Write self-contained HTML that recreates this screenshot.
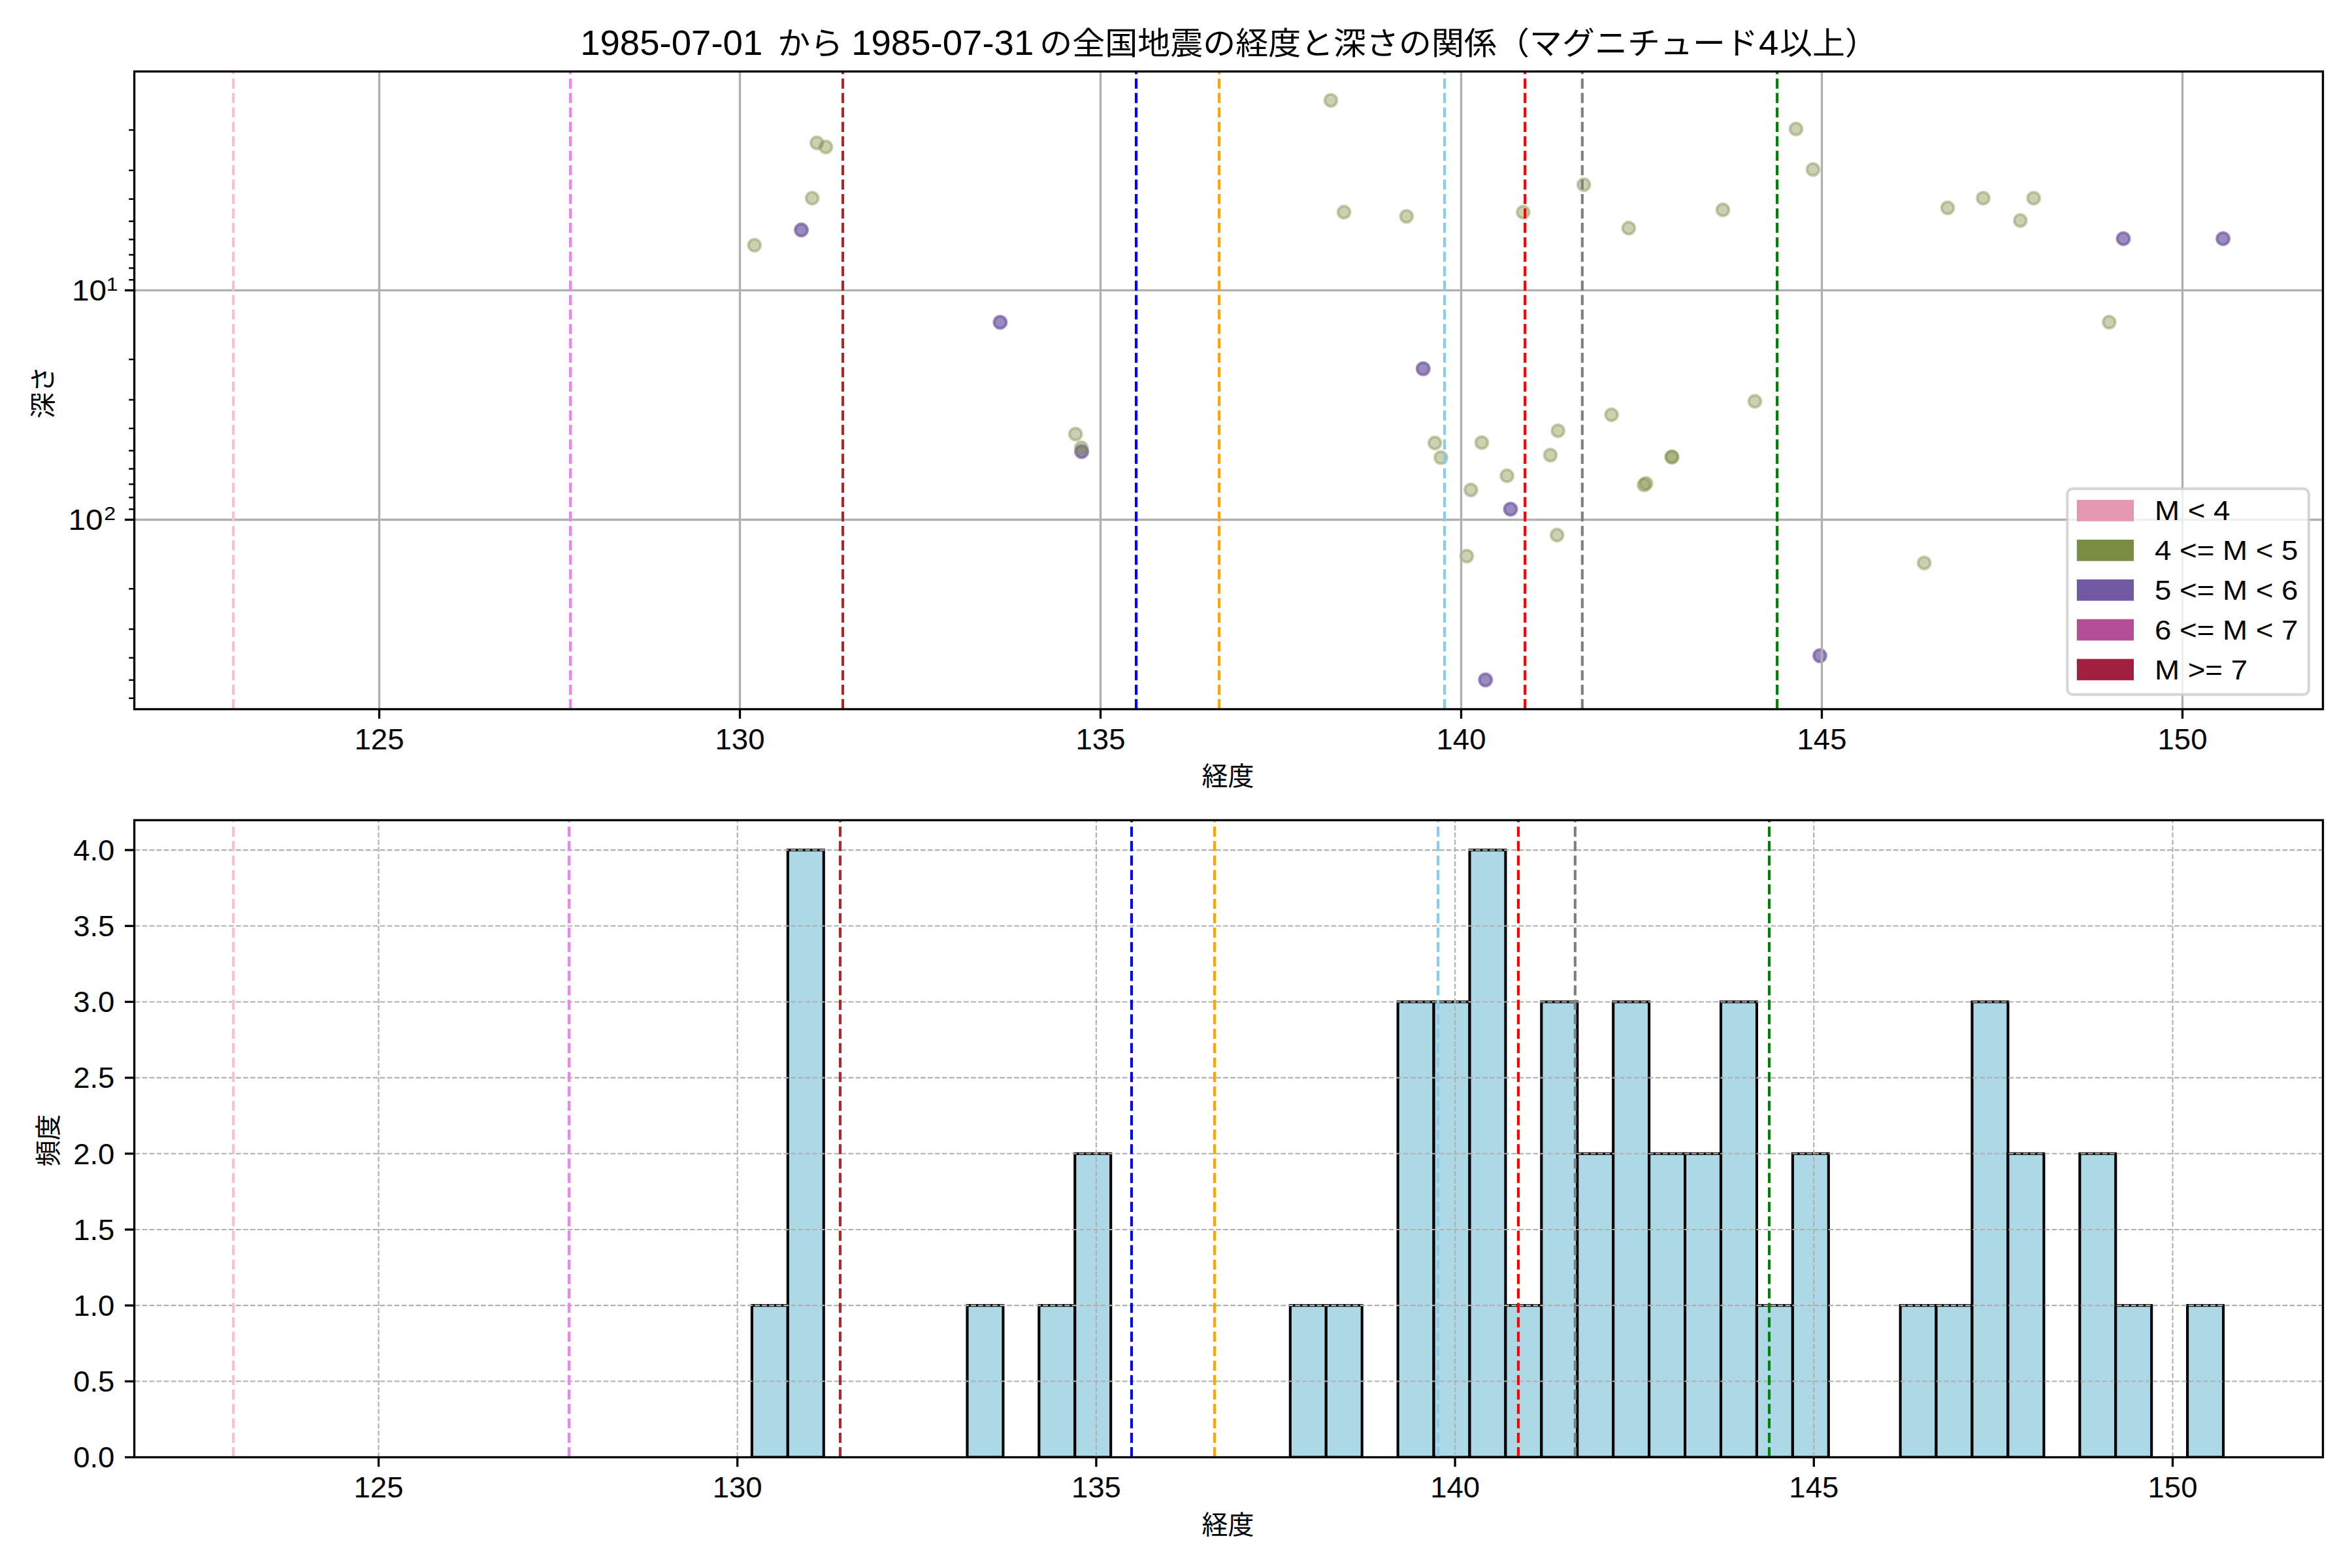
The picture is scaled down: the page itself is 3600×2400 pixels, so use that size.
<!DOCTYPE html>
<html lang="ja"><head><meta charset="utf-8"><title>1985-07 全国地震の経度と深さの関係</title>
<style>html,body{margin:0;padding:0;background:#fff}svg{display:block}</style></head>
<body>
<svg width="3600" height="2400" viewBox="0 0 3600 2400">
<rect x="0" y="0" width="3600" height="2400" fill="#ffffff"/>
<defs><clipPath id="c1"><rect x="205.6" y="109.4" width="3349.9" height="976.1"/></clipPath><clipPath id="c2"><rect x="205.6" y="1255.4" width="3349.9" height="975.1"/></clipPath></defs>
<g clip-path="url(#c1)">
<g fill="#7058a3" stroke="#7058a3" stroke-width="4.17" fill-opacity="0.7" stroke-opacity="0.7">
<circle cx="1226.5" cy="352" r="9.32"/>
<circle cx="1530.9" cy="493.3" r="9.32"/>
<circle cx="3250" cy="365.3" r="9.32"/>
<circle cx="3402.6" cy="365.3" r="9.32"/>
<circle cx="1655.6" cy="691.2" r="9.32"/>
<circle cx="2178.3" cy="564.4" r="9.32"/>
<circle cx="2312" cy="779.3" r="9.32"/>
<circle cx="2273.7" cy="1040.6" r="9.32"/>
<circle cx="2785.5" cy="1003.6" r="9.32"/>
</g>
<g fill="#7a8d42" stroke="#7a8d42" stroke-width="4.17" fill-opacity="0.4" stroke-opacity="0.4">
<circle cx="1154.8" cy="375.3" r="9.32"/>
<circle cx="1243.1" cy="303.3" r="9.32"/>
<circle cx="1250.3" cy="218.6" r="9.32"/>
<circle cx="1264" cy="225" r="9.32"/>
<circle cx="2037" cy="153.6" r="9.32"/>
<circle cx="2057.1" cy="324.7" r="9.32"/>
<circle cx="2152.8" cy="331.1" r="9.32"/>
<circle cx="2331.4" cy="324.7" r="9.32"/>
<circle cx="2424.2" cy="282.7" r="9.32"/>
<circle cx="2492.9" cy="349.2" r="9.32"/>
<circle cx="2637" cy="321.2" r="9.32"/>
<circle cx="2749" cy="197.4" r="9.32"/>
<circle cx="2775" cy="259.4" r="9.32"/>
<circle cx="2981.1" cy="318.1" r="9.32"/>
<circle cx="3035.5" cy="303.3" r="9.32"/>
<circle cx="3092.3" cy="337.5" r="9.32"/>
<circle cx="3112.7" cy="303.3" r="9.32"/>
<circle cx="3228.3" cy="493.1" r="9.32"/>
<circle cx="1646.2" cy="664.4" r="9.32"/>
<circle cx="1655.1" cy="685.4" r="9.32"/>
<circle cx="2196.2" cy="678" r="9.32"/>
<circle cx="2205.4" cy="700.4" r="9.32"/>
<circle cx="2267.9" cy="677.4" r="9.32"/>
<circle cx="2251.3" cy="749.9" r="9.32"/>
<circle cx="2306.6" cy="728.2" r="9.32"/>
<circle cx="2384.7" cy="659.3" r="9.32"/>
<circle cx="2373" cy="696.6" r="9.32"/>
<circle cx="2466.6" cy="634.8" r="9.32"/>
<circle cx="2559" cy="699.4" r="9.32"/>
<circle cx="2559" cy="699.4" r="9.32"/>
<circle cx="2516.4" cy="742.2" r="9.32"/>
<circle cx="2519.4" cy="739.8" r="9.32"/>
<circle cx="2383.2" cy="819" r="9.32"/>
<circle cx="2245" cy="851.1" r="9.32"/>
<circle cx="2686" cy="614.2" r="9.32"/>
<circle cx="2945.2" cy="861.6" r="9.32"/>
</g>
<g stroke="#b0b0b0" stroke-width="3.33" fill="none">
<path d="M580.5 1085.5V109.4"/>
<path d="M1132.5 1085.5V109.4"/>
<path d="M1684.5 1085.5V109.4"/>
<path d="M2236.5 1085.5V109.4"/>
<path d="M2788.5 1085.5V109.4"/>
<path d="M3340.5 1085.5V109.4"/>
<path d="M205.6 444.4H3555.5"/>
<path d="M205.6 795.5H3555.5"/>
</g>
<g stroke-width="4.17" fill="none" stroke-dasharray="15.42 6.67">
<path d="M357.05 1085.5V109.4" stroke="#ffc0cb"/>
<path d="M872.95 1085.5V109.4" stroke="#ee82ee"/>
<path d="M1290.04 1085.5V109.4" stroke="#a52a2a"/>
<path d="M1739.04 1085.5V109.4" stroke="#0000ff"/>
<path d="M1866.11 1085.5V109.4" stroke="#ffa500"/>
<path d="M2211 1085.5V109.4" stroke="#87ceeb"/>
<path d="M2334.2 1085.5V109.4" stroke="#ff0000"/>
<path d="M2421.86 1085.5V109.4" stroke="#808080"/>
<path d="M2720.16 1085.5V109.4" stroke="#008000"/>
</g>
</g>
<g stroke="#000" stroke-width="3.33" fill="none">
<path d="M580.5 1085.5v14.58"/>
<path d="M1132.5 1085.5v14.58"/>
<path d="M1684.5 1085.5v14.58"/>
<path d="M2236.5 1085.5v14.58"/>
<path d="M2788.5 1085.5v14.58"/>
<path d="M3340.5 1085.5v14.58"/>
<path d="M205.6 444.4h-14.58"/>
<path d="M205.6 795.5h-14.58"/>
</g>
<g stroke="#000" stroke-width="2.5" fill="none">
<path d="M205.6 198.99h-8.33"/>
<path d="M205.6 260.82h-8.33"/>
<path d="M205.6 304.68h-8.33"/>
<path d="M205.6 338.71h-8.33"/>
<path d="M205.6 366.51h-8.33"/>
<path d="M205.6 390.01h-8.33"/>
<path d="M205.6 410.37h-8.33"/>
<path d="M205.6 428.33h-8.33"/>
<path d="M205.6 550.09h-8.33"/>
<path d="M205.6 611.92h-8.33"/>
<path d="M205.6 655.78h-8.33"/>
<path d="M205.6 689.81h-8.33"/>
<path d="M205.6 717.61h-8.33"/>
<path d="M205.6 741.11h-8.33"/>
<path d="M205.6 761.47h-8.33"/>
<path d="M205.6 779.43h-8.33"/>
<path d="M205.6 901.19h-8.33"/>
<path d="M205.6 963.02h-8.33"/>
<path d="M205.6 1006.88h-8.33"/>
<path d="M205.6 1040.91h-8.33"/>
<path d="M205.6 1068.71h-8.33"/>
</g>
<rect x="205.6" y="109.4" width="3349.9" height="976.1" fill="none" stroke="#000" stroke-width="3.33"/>
<rect x="3164.3" y="748.2" width="369.5" height="314.9" rx="8" ry="8" fill="#ffffff" fill-opacity="0.8" stroke="#cccccc" stroke-opacity="0.8" stroke-width="4.17"/>
<rect x="3178.8" y="765.15" width="87.2" height="32.7" fill="#e596b1"/>
<rect x="3178.8" y="826" width="87.2" height="32.7" fill="#7a8d42"/>
<rect x="3178.8" y="886.85" width="87.2" height="32.7" fill="#7058a3"/>
<rect x="3178.8" y="947.7" width="87.2" height="32.7" fill="#b44e97"/>
<rect x="3178.8" y="1008.55" width="87.2" height="32.7" fill="#a12042"/>
<g clip-path="url(#c2)">
<g fill="#add8e6" stroke="#000" stroke-width="4.1" stroke-linejoin="miter">
<rect x="1150.9" y="1998.15" width="54.93" height="232.35"/>
<rect x="1205.83" y="1301.1" width="54.93" height="929.4"/>
<rect x="1480.48" y="1998.15" width="54.93" height="232.35"/>
<rect x="1590.34" y="1998.15" width="54.93" height="232.35"/>
<rect x="1645.27" y="1765.8" width="54.93" height="464.7"/>
<rect x="1974.85" y="1998.15" width="54.93" height="232.35"/>
<rect x="2029.78" y="1998.15" width="54.93" height="232.35"/>
<rect x="2139.64" y="1533.45" width="54.93" height="697.05"/>
<rect x="2194.57" y="1533.45" width="54.93" height="697.05"/>
<rect x="2249.5" y="1301.1" width="54.93" height="929.4"/>
<rect x="2304.43" y="1998.15" width="54.93" height="232.35"/>
<rect x="2359.36" y="1533.45" width="54.93" height="697.05"/>
<rect x="2414.29" y="1765.8" width="54.93" height="464.7"/>
<rect x="2469.22" y="1533.45" width="54.93" height="697.05"/>
<rect x="2524.15" y="1765.8" width="54.93" height="464.7"/>
<rect x="2579.08" y="1765.8" width="54.93" height="464.7"/>
<rect x="2634.01" y="1533.45" width="54.93" height="697.05"/>
<rect x="2688.94" y="1998.15" width="54.93" height="232.35"/>
<rect x="2743.87" y="1765.8" width="54.93" height="464.7"/>
<rect x="2908.66" y="1998.15" width="54.93" height="232.35"/>
<rect x="2963.59" y="1998.15" width="54.93" height="232.35"/>
<rect x="3018.52" y="1533.45" width="54.93" height="697.05"/>
<rect x="3073.45" y="1765.8" width="54.93" height="464.7"/>
<rect x="3183.31" y="1765.8" width="54.93" height="464.7"/>
<rect x="3238.24" y="1998.15" width="54.93" height="232.35"/>
<rect x="3348.1" y="1998.15" width="54.93" height="232.35"/>
</g>
<g stroke="#b0b0b0" stroke-width="2.08" fill="none" stroke-dasharray="7.7 3.33">
<path d="M579.5 2230.5V1255.4"/>
<path d="M1128.7 2230.5V1255.4"/>
<path d="M1677.9 2230.5V1255.4"/>
<path d="M2227.1 2230.5V1255.4"/>
<path d="M2776.3 2230.5V1255.4"/>
<path d="M3325.5 2230.5V1255.4"/>
<path d="M206.6 2230.5H3555.5"/>
<path d="M206.6 2114.32H3555.5"/>
<path d="M206.6 1998.15H3555.5"/>
<path d="M206.6 1881.97H3555.5"/>
<path d="M206.6 1765.8H3555.5"/>
<path d="M206.6 1649.62H3555.5"/>
<path d="M206.6 1533.45H3555.5"/>
<path d="M206.6 1417.28H3555.5"/>
<path d="M206.6 1301.1H3555.5"/>
</g>
<g stroke-width="4.17" fill="none" stroke-dasharray="15.42 6.67">
<path d="M357.1 2230.5V1255.4" stroke="#ffc0cb"/>
<path d="M870.9 2230.5V1255.4" stroke="#ee82ee"/>
<path d="M1286 2230.5V1255.4" stroke="#a52a2a"/>
<path d="M1732 2230.5V1255.4" stroke="#0000ff"/>
<path d="M1858.9 2230.5V1255.4" stroke="#ffa500"/>
<path d="M2201 2230.5V1255.4" stroke="#87ceeb"/>
<path d="M2324 2230.5V1255.4" stroke="#ff0000"/>
<path d="M2410.9 2230.5V1255.4" stroke="#808080"/>
<path d="M2708 2230.5V1255.4" stroke="#008000"/>
</g>
</g>
<g stroke="#000" stroke-width="3.33" fill="none">
<path d="M579.5 2230.5v14.58"/>
<path d="M1128.7 2230.5v14.58"/>
<path d="M1677.9 2230.5v14.58"/>
<path d="M2227.1 2230.5v14.58"/>
<path d="M2776.3 2230.5v14.58"/>
<path d="M3325.5 2230.5v14.58"/>
<path d="M205.6 2230.5h-14.58"/>
<path d="M205.6 2114.32h-14.58"/>
<path d="M205.6 1998.15h-14.58"/>
<path d="M205.6 1881.97h-14.58"/>
<path d="M205.6 1765.8h-14.58"/>
<path d="M205.6 1649.62h-14.58"/>
<path d="M205.6 1533.45h-14.58"/>
<path d="M205.6 1417.28h-14.58"/>
<path d="M205.6 1301.1h-14.58"/>
</g>
<rect x="205.6" y="1255.4" width="3349.9" height="975.1" fill="none" stroke="#000" stroke-width="3.33"/>
<g font-family='"Liberation Sans", "Noto Sans CJK JP", sans-serif' fill="#000">
<text transform="translate(580.5 1147.4) scale(1.02 1.0)" font-size="44.6" text-anchor="middle">125</text>
<text transform="translate(579.5 2291.8) scale(1.02 1.0)" font-size="44.6" text-anchor="middle">125</text>
<text transform="translate(1132.5 1147.4) scale(1.02 1.0)" font-size="44.6" text-anchor="middle">130</text>
<text transform="translate(1128.7 2291.8) scale(1.02 1.0)" font-size="44.6" text-anchor="middle">130</text>
<text transform="translate(1684.5 1147.4) scale(1.02 1.0)" font-size="44.6" text-anchor="middle">135</text>
<text transform="translate(1677.9 2291.8) scale(1.02 1.0)" font-size="44.6" text-anchor="middle">135</text>
<text transform="translate(2236.5 1147.4) scale(1.02 1.0)" font-size="44.6" text-anchor="middle">140</text>
<text transform="translate(2227.1 2291.8) scale(1.02 1.0)" font-size="44.6" text-anchor="middle">140</text>
<text transform="translate(2788.5 1147.4) scale(1.02 1.0)" font-size="44.6" text-anchor="middle">145</text>
<text transform="translate(2776.3 2291.8) scale(1.02 1.0)" font-size="44.6" text-anchor="middle">145</text>
<text transform="translate(3340.5 1147.4) scale(1.02 1.0)" font-size="44.6" text-anchor="middle">150</text>
<text transform="translate(3325.5 2291.8) scale(1.02 1.0)" font-size="44.6" text-anchor="middle">150</text>
<text transform="translate(175.4 2246.3) scale(1.02 1.0)" font-size="44.6" text-anchor="end">0.0</text>
<text transform="translate(175.4 2130.12) scale(1.02 1.0)" font-size="44.6" text-anchor="end">0.5</text>
<text transform="translate(175.4 2013.95) scale(1.02 1.0)" font-size="44.6" text-anchor="end">1.0</text>
<text transform="translate(175.4 1897.77) scale(1.02 1.0)" font-size="44.6" text-anchor="end">1.5</text>
<text transform="translate(175.4 1781.6) scale(1.02 1.0)" font-size="44.6" text-anchor="end">2.0</text>
<text transform="translate(175.4 1665.42) scale(1.02 1.0)" font-size="44.6" text-anchor="end">2.5</text>
<text transform="translate(175.4 1549.25) scale(1.02 1.0)" font-size="44.6" text-anchor="end">3.0</text>
<text transform="translate(175.4 1433.08) scale(1.02 1.0)" font-size="44.6" text-anchor="end">3.5</text>
<text transform="translate(175.4 1316.9) scale(1.02 1.0)" font-size="44.6" text-anchor="end">4.0</text>
<text transform="translate(109.9 460.1) scale(1.07 1)" font-size="44.6">10<tspan x="49.44" dy="-15.3" font-size="30.0">1</tspan></text>
<text transform="translate(104.5 811.2) scale(1.07 1)" font-size="44.6">10<tspan x="51.12" dy="-15.3" font-size="30.0">2</tspan></text>
<text transform="translate(1879.5 1202.4)" font-size="40.0" text-anchor="middle">経度</text>
<text transform="translate(1879.5 2348.4)" font-size="40.0" text-anchor="middle">経度</text>
<text transform="translate(80 600.5) rotate(-90)" font-size="40.0" text-anchor="middle">深さ</text>
<text transform="translate(87.8 1745.5) rotate(-90)" font-size="40.0" text-anchor="middle">頻度</text>
<text transform="translate(3298 795.8) scale(1.052 1.0)" font-size="43.4">M &lt; 4</text>
<text transform="translate(3298 856.9) scale(1.052 1.0)" font-size="43.4">4 &lt;= M &lt; 5</text>
<text transform="translate(3298 918) scale(1.052 1.0)" font-size="43.4">5 &lt;= M &lt; 6</text>
<text transform="translate(3298 979.1) scale(1.052 1.0)" font-size="43.4">6 &lt;= M &lt; 7</text>
<text transform="translate(3298 1040.2) scale(1.052 1.0)" font-size="43.4">M &gt;= 7</text>
<text transform="translate(888.2 83.8) scale(1.02 1.0)" font-size="53.5">1985-07-01 </text>
<text transform="translate(1190.2 83.3) scale(1.0 0.96)" font-size="50">から </text>
<text transform="translate(1303.2 83.8) scale(1.02 1.0)" font-size="53.5">1985-07-31</text>
<text transform="translate(1591.2 83.3) scale(1.0 0.96)" font-size="50">の全国地震の経度と深さの関係（マグニチュード</text>
<text transform="translate(2692 83.8) scale(1.02 1.0)" font-size="53.5">4</text>
<text transform="translate(2724 83.3) scale(1.0 0.96)" font-size="50">以上）</text>
</g>
</svg>
</body></html>
